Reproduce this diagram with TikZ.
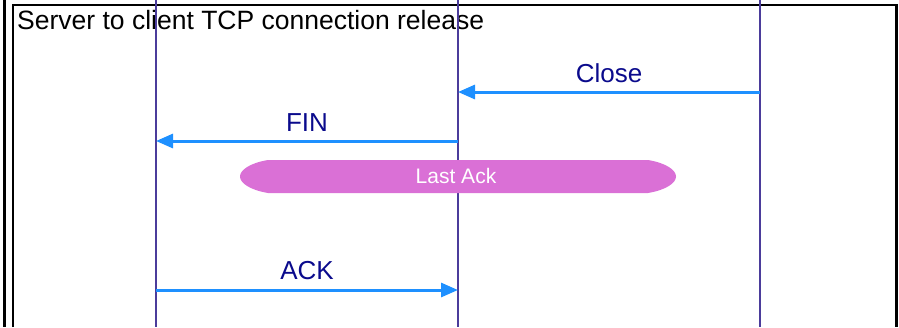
\documentclass[tikz,border=0pt]{standalone}
\usepackage{fontspec}
\setmainfont{Liberation Sans}
\usetikzlibrary{arrows.meta}
\definecolor{lifeline}{HTML}{4B3C9B}
\definecolor{msgblue}{HTML}{1E90FF}
\definecolor{msgtext}{HTML}{0A0A8C}
\definecolor{statefill}{HTML}{DA70D6}
\begin{document}
\begin{tikzpicture}[x=1pt,y=-1pt,
  frameline/.style={draw=black,line width=2.2pt},
  lifeline/.style={draw=lifeline,line width=1.8pt},
  msg/.style={draw=msgblue,line width=3pt,-{Triangle[length=17pt,width=14pt]}},
  msglabel/.style={text=msgtext,font=\fontsize{26}{30}\selectfont,anchor=base,inner sep=0pt},
  statebox/.style={fill=statefill,draw=none},
  statelabel/.style={text=white,font=\fontsize{21}{24}\selectfont,anchor=base,inner sep=0pt}]
  \useasboundingbox (0,0) rectangle (899,327);

  % frame
  \draw[frameline] (4.5,0) -- (4.5,327);
  \draw[frameline] (13,327) -- (13,5) -- (896.5,5) -- (896.5,327);
  \node[anchor=base west,inner sep=0pt,font=\fontsize{26.5}{30}\selectfont] (title) at (17,29) {Server to client TCP connection release};

  % lifelines
  \coordinate (c0) at (156,0);  \coordinate (c1) at (156,327);
  \coordinate (s0) at (458,0);  \coordinate (s1) at (458,327);
  \coordinate (a0) at (760,0);  \coordinate (a1) at (760,327);
  \draw[lifeline] (c0) -- (c1);
  \draw[lifeline] (s0) -- (s1);
  \draw[lifeline] (a0) -- (a1);

  % state
  \path[statebox] (268,160) -- (648,160)
    .. controls (666,163) and (676,170) .. (676,176.5)
    .. controls (676,183) and (666,190) .. (648,193)
    -- (268,193)
    .. controls (250,190) and (240,183) .. (240,176.5)
    .. controls (240,170) and (250,163) .. (268,160) -- cycle;
  \node[statelabel] (lastack) at (456,183) {Last Ack};

  % messages
  \coordinate (closeA) at (760,92);  \coordinate (closeS) at (458,92);
  \coordinate (finS) at (458,141);   \coordinate (finC) at (156,141);
  \coordinate (ackC) at (156,290);   \coordinate (ackS) at (458,290);
  \draw[msg] (closeA) -- (closeS);
  \draw[msg] (finS) -- (finC);
  \draw[msg] (ackC) -- (ackS);
  \node[msglabel] (close) at (609,82) {Close};
  \node[msglabel] (fin) at (307,131) {FIN};
  \node[msglabel] (ack) at (307,279) {ACK};
\end{tikzpicture}
\end{document}
